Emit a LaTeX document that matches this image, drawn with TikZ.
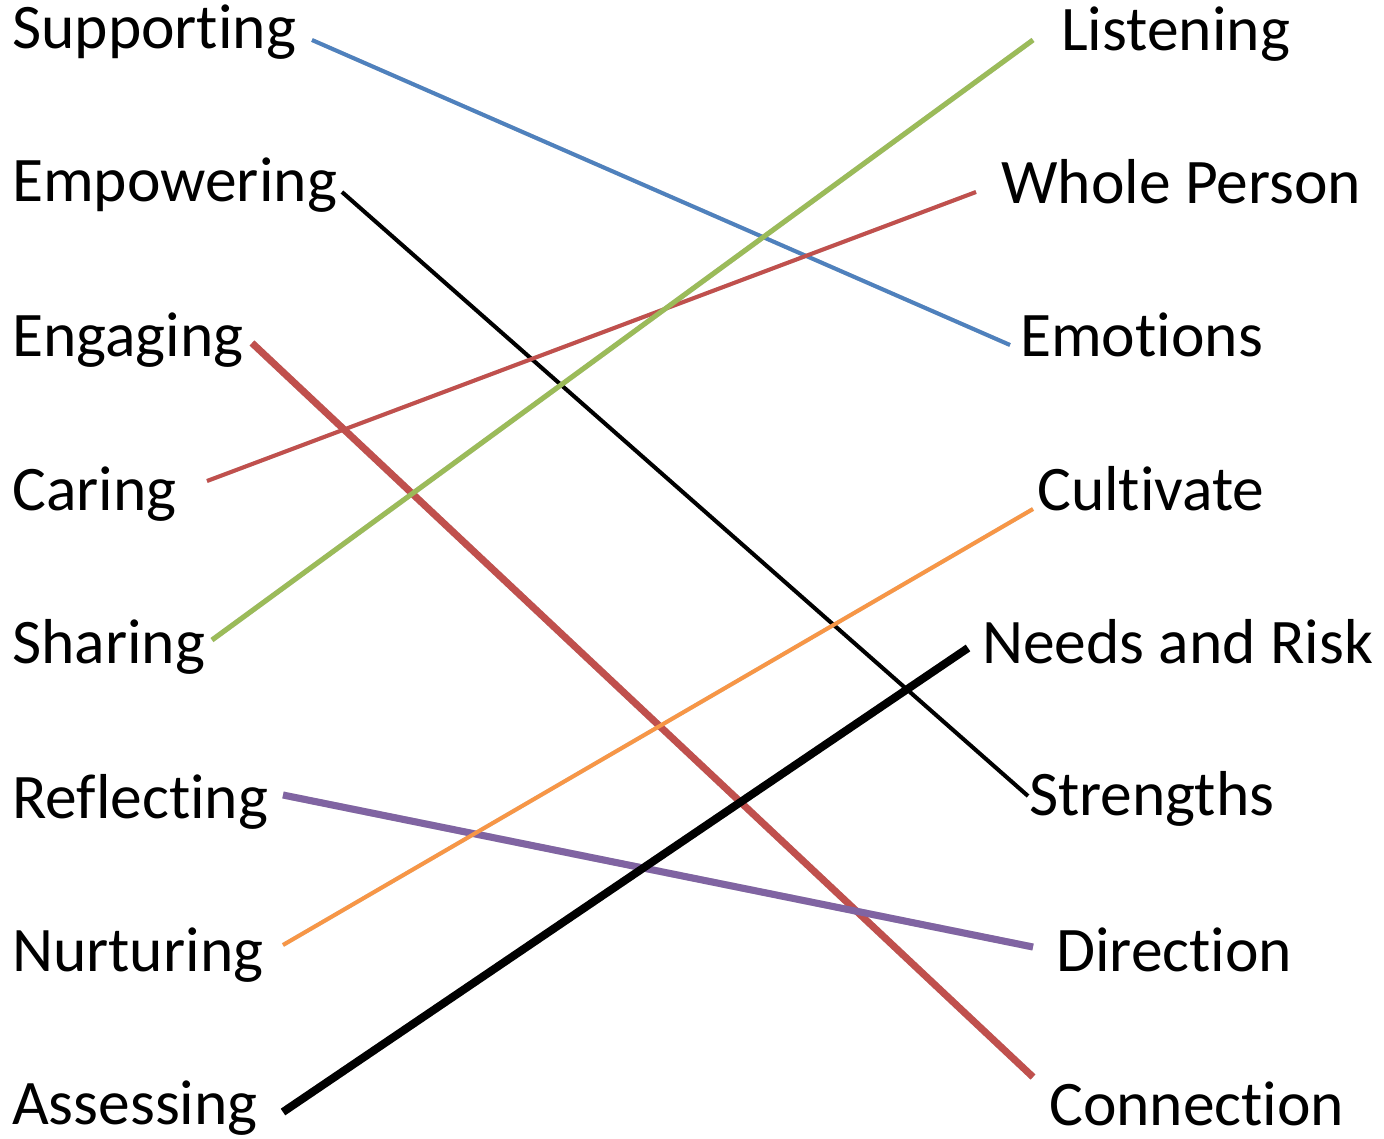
\documentclass[tikz,border=0pt]{standalone}
\usepackage{fontspec}
\setmainfont{Carlito}[Ligatures=NoCommon]
\definecolor{cblue}{HTML}{4F81BD}
\definecolor{cred}{HTML}{C0504D}
\definecolor{cgreen}{HTML}{9BBB59}
\definecolor{cpurple}{HTML}{8064A2}
\definecolor{corange}{HTML}{F79646}
\tikzset{
  word/.style={inner sep=0pt, font=\fontsize{63.5}{72}\selectfont},
  lword/.style={word, anchor=base west},
  link/.style={line cap=butt},
  shade/.style={draw=black, opacity=0.18, line cap=butt, shift={(1.5,1.5)}},
}
\begin{document}
\begin{tikzpicture}[x=1pt,y=-1pt]
\useasboundingbox (0,0) rectangle (1384,1138);
\fill[white] (0,0) rectangle (1384,1138);

% left column
\node[lword] (sup) at (12,48)   {Supporting};
\node[lword] (emp) at (12,201)  {Empowering};
\node[lword] (eng) at (12,356)  {Engaging};
\node[lword] (car) at (12,510)  {Caring};
\node[lword] (sha) at (12,663)  {Sharing};
\node[lword] (ref) at (12,818)  {Reflecting};
\node[lword] (nur) at (12,971)  {Nurturing};
\node[lword] (ass) at (12,1124) {Assessing};

% right column
\node[lword] (lis) at (1061,50)  {Listening};
\node[lword] (who) at (1001,203) {Whole Person};
\node[lword] (emo) at (1020,356) {Emotions};
\node[lword] (cul) at (1037,510) {Cultivate};
\node[lword] (nee) at (982,663)  {Needs and Risk};
\node[lword] (str) at (1029,815) {Strengths};
\node[lword] (dir) at (1056,971) {Direction};
\node[lword] (con) at (1049,1125){Connection};

% connector ends
\coordinate (sup-e) at (312,40);
\coordinate (emp-e) at (342,192);
\coordinate (eng-e) at (252,343);
\coordinate (car-e) at (207,481);
\coordinate (sha-e) at (212,640);
\coordinate (ref-e) at (283,795);
\coordinate (nur-e) at (283,945);
\coordinate (ass-e) at (283,1112);
\coordinate (lis-e) at (1033,40);
\coordinate (who-e) at (976,192);
\coordinate (emo-e) at (1010,345);
\coordinate (cul-e) at (1033,509);
\coordinate (nee-e) at (968,648);
\coordinate (str-e) at (1028,796);
\coordinate (dir-e) at (1033,947);
\coordinate (con-e) at (1033,1077);

% soft shadows under the connectors
\draw[shade, line width=4] (sup-e) -- (emo-e);
\draw[shade, line width=4] (emp-e) -- (str-e);
\draw[shade, line width=7] (eng-e) -- (con-e);
\draw[shade, line width=4] (car-e) -- (who-e);
\draw[shade, line width=5] (sha-e) -- (lis-e);
\draw[shade, line width=7] (ref-e) -- (dir-e);
\draw[shade, line width=4] (nur-e) -- (cul-e);
\draw[shade, line width=8] (ass-e) -- (nee-e);

% connectors
\draw[link, cblue,   line width=4] (sup-e) -- (emo-e);
\draw[link, black,   line width=4] (emp-e) -- (str-e);
\draw[link, cred,    line width=7] (eng-e) -- (con-e);
\draw[link, cred,    line width=4] (car-e) -- (who-e);
\draw[link, cgreen,  line width=5] (sha-e) -- (lis-e);
\draw[link, cpurple, line width=7] (ref-e) -- (dir-e);
\draw[link, corange, line width=4] (nur-e) -- (cul-e);
\draw[link, black,   line width=8] (ass-e) -- (nee-e);
\end{tikzpicture}
\end{document}
